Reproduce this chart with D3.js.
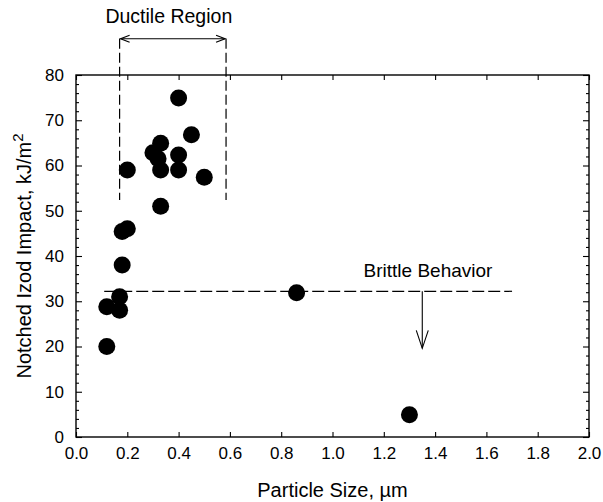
<!DOCTYPE html>
<html><head><meta charset="utf-8">
<script src="https://cdn.jsdelivr.net/npm/d3@7"></script>
<style>
html,body{margin:0;padding:0;background:#fff;}
svg text{font-family:"Liberation Sans",Arial,sans-serif;fill:#000;}
</style></head>
<body>
<svg id="chart" width="603" height="502"></svg>
<script>
// Data: particle size (µm) vs notched Izod impact (kJ/m^2)
const particleSize = [0.12, 0.12, 0.17, 0.17, 0.18, 0.18, 0.20, 0.20, 0.30, 0.33, 0.32, 0.33, 0.33, 0.40, 0.45, 0.40, 0.40, 0.50, 0.86, 1.30];
const izodImpact   = [20.0, 28.8, 31.0, 28.0, 38.0, 45.4, 46.0, 59.0, 62.8, 64.9, 61.5, 59.0, 51.0, 74.9, 66.8, 62.3, 59.0, 57.4, 31.9, 4.9];
const xTicks = [0.0, 0.2, 0.4, 0.6, 0.8, 1.0, 1.2, 1.4, 1.6, 1.8, 2.0];
const yTicks = [0, 10, 20, 30, 40, 50, 60, 70, 80];
const ductileRange = [0.17, 0.585];   // x extent of ductile region
const ductileBottom = 52.4;           // bottom of dashed verticals
const ductileTop = 88;                // top (arrow level)
const brittleLevel = 32.2;
const brittleRange = [0.11, 1.70];
const brittleArrowX = 1.35;
const brittleArrowEnd = 19.6;

const svg = d3.select("#chart");
const L = 76, R = 589, T = 75, B = 437;
const x = d3.scaleLinear().domain([0, 2]).range([L, R]);
const y = d3.scaleLinear().domain([0, 80]).range([B, T]);

const fmtX = d3.format(".1f");
const axisStroke = 1.4;

// Frame
svg.append("rect").attr("x", L).attr("y", T).attr("width", R - L).attr("height", B - T)
  .attr("fill", "none").attr("stroke", "#000").attr("stroke-width", axisStroke);

// Axes with inward ticks
const yMinor = d3.range(0, 81, 2).filter(v => v % 10 !== 0);
function styleAxis(g){ g.select(".domain").remove(); g.selectAll("line").attr("stroke","#000").attr("stroke-width",1.1); }

svg.append("g").attr("transform", `translate(0,${B})`)
  .call(d3.axisBottom(x).tickValues(xTicks).tickSize(-5).tickPadding(10).tickFormat(fmtX))
  .call(styleAxis)
  .call(g => g.selectAll("text").attr("font-size", 17).attr("dy", "0.71em"));
svg.append("g").attr("transform", `translate(0,${T})`)
  .call(d3.axisTop(x).tickValues(xTicks).tickSize(-5).tickFormat(""))
  .call(styleAxis);
svg.append("g").attr("transform", `translate(${L},0)`)
  .call(d3.axisLeft(y).tickValues(yTicks).tickSize(-6).tickPadding(12))
  .call(styleAxis)
  .call(g => g.selectAll("text").attr("font-size", 17));
svg.append("g").attr("transform", `translate(${L},0)`)
  .call(d3.axisLeft(y).tickValues(yMinor).tickSize(-3).tickFormat(""))
  .call(styleAxis);
svg.append("g").attr("transform", `translate(${R},0)`)
  .call(d3.axisRight(y).tickValues(yTicks).tickSize(-6).tickFormat(""))
  .call(styleAxis);
svg.append("g").attr("transform", `translate(${R},0)`)
  .call(d3.axisRight(y).tickValues(yMinor).tickSize(-3).tickFormat(""))
  .call(styleAxis);

// Axis labels
svg.append("text").attr("x", (L + R) / 2).attr("y", 497).attr("text-anchor", "middle")
  .attr("font-size", 20).text("Particle Size, \u00b5m");
const yl = svg.append("text").attr("transform", `translate(31,${(T + B) / 2}) rotate(-90)`)
  .attr("text-anchor", "middle").attr("font-size", 20);
yl.append("tspan").text("Notched Izod Impact, kJ/m");
yl.append("tspan").attr("font-size", 15).attr("dy", -8).text("2");

// Ductile region annotation
const dash = "10,4";
ductileRange.forEach(v => {
  svg.append("line").attr("x1", x(v)).attr("x2", x(v)).attr("y1", y(ductileTop)).attr("y2", y(ductileBottom))
    .attr("stroke", "#000").attr("stroke-width", 1.2).attr("stroke-dasharray", dash);
});
const ay = y(ductileTop);
svg.append("line").attr("x1", x(ductileRange[0]) + 1).attr("x2", x(ductileRange[1]) - 1)
  .attr("y1", ay).attr("y2", ay).attr("stroke", "#000").attr("stroke-width", 1.1);
[[x(ductileRange[0]) + 1, 1], [x(ductileRange[1]) - 1, -1]].forEach(([px, d]) => {
  svg.append("path").attr("d", `M${px + d * 9},${ay - 3.5} L${px},${ay} L${px + d * 9},${ay + 3.5}`)
    .attr("fill", "none").attr("stroke", "#000").attr("stroke-width", 1.2);
});
svg.append("text").attr("x", (x(ductileRange[0]) + x(ductileRange[1])) / 2 - 4).attr("y", 23)
  .attr("text-anchor", "middle").attr("font-size", 19.5).text("Ductile Region");

// Brittle behaviour annotation
svg.append("line").attr("x1", x(brittleRange[0])).attr("x2", x(brittleRange[1]))
  .attr("y1", y(brittleLevel)).attr("y2", y(brittleLevel))
  .attr("stroke", "#000").attr("stroke-width", 1.2).attr("stroke-dasharray", "12,4");
const bx = x(brittleArrowX), by = y(brittleArrowEnd);
svg.append("line").attr("x1", bx).attr("x2", bx).attr("y1", y(brittleLevel)).attr("y2", by)
  .attr("stroke", "#000").attr("stroke-width", 1.1);
svg.append("path").attr("d", `M${bx - 6},${by - 18} L${bx},${by} L${bx + 6},${by - 18}`)
  .attr("fill", "none").attr("stroke", "#000").attr("stroke-width", 1.1);
svg.append("text").attr("x", 428).attr("y", 277).attr("text-anchor", "middle")
  .attr("font-size", 19).text("Brittle Behavior");

// Points
svg.append("g").selectAll("circle").data(d3.zip(particleSize, izodImpact)).join("circle")
  .attr("cx", d => x(d[0])).attr("cy", d => y(d[1])).attr("r", 8.5).attr("fill", "#000");
</script>
</body></html>
